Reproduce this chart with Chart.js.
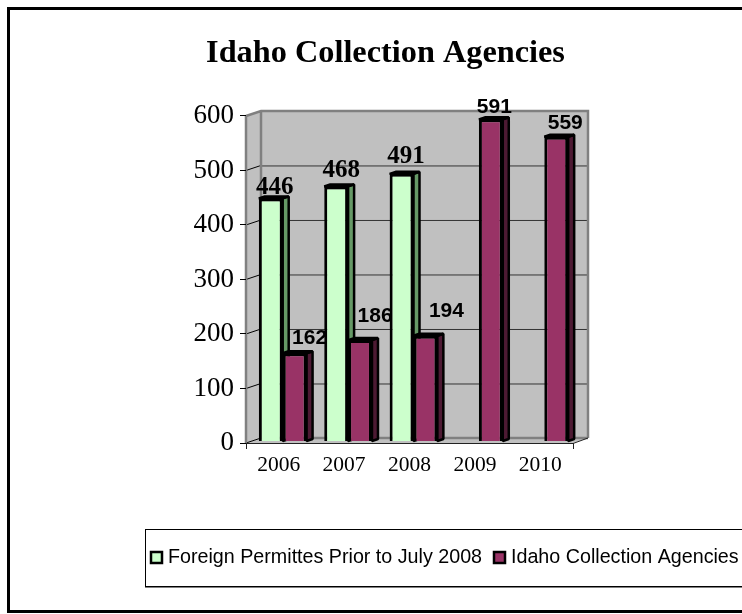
<!DOCTYPE html>
<html>
<head>
<meta charset="utf-8">
<style>
  html, body { margin: 0; padding: 0; background: #fff; overflow: hidden; }
  canvas { display: block; }
</style>
<script src="https://cdn.jsdelivr.net/npm/chart.js@4"></script>
</head>
<body>
<canvas id="chart" width="742" height="614"></canvas>
<script>
const years = ['2006', '2007', '2008', '2009', '2010'];
const foreignPermittes = [446, 468, 491, null, null];
const idahoAgencies = [162, 186, 194, 591, 559];
const yTicks = [0, 100, 200, 300, 400, 500, 600];

// how far the back wall and the bars sit behind the front plane
const wallDepth = { x: 15, y: -5 };
const barShift = { x: 4, y: -1.5 };
const barDepth = { x: 6, y: -2 };

// value labels are not centred on their bars, offsets per dataset and bar
const labelOffsets = [
  [[8, -12], [9, -17], [8.5, -19], [0, 0], [0, 0]],
  [[19, -16], [19, -25.5], [25, -26], [7.5, -14], [13, -15]]
];
const labelFonts = ['bold 25px "Liberation Serif"', 'bold 21px "Liberation Sans"'];

const C_WALL = '#c0c0c0';
const C_EDGE = '#808080';

function poly(ctx, pts, fill, stroke, lw) {
  ctx.beginPath();
  pts.forEach((p, i) => i ? ctx.lineTo(p[0], p[1]) : ctx.moveTo(p[0], p[1]));
  ctx.closePath();
  if (fill) { ctx.fillStyle = fill; ctx.fill(); }
  if (stroke) { ctx.lineJoin = 'bevel'; ctx.strokeStyle = stroke; ctx.lineWidth = lw || 1; ctx.stroke(); }
}

function drawValueLabels(chart, di) {
  const { ctx } = chart;
  const ds = chart.data.datasets[di];
  ctx.save();
  ctx.font = labelFonts[di];
  ctx.fillStyle = '#000';
  ctx.textAlign = 'center';
  ctx.textBaseline = 'middle';
  chart.getDatasetMeta(di).data.forEach((bar, i) => {
    if (ds.data[i] == null) return;
    const off = labelOffsets[di][i];
    ctx.fillText(String(ds.data[i]), bar.x + off[0], bar.y + off[1]);
  });
  ctx.restore();
}

// ==========================================
// box walls, floor and gridlines
// ==========================================
const wallsPlugin = {
  id: 'walls',
  beforeDraw(chart) {
    const { ctx, chartArea: a, scales: { y } } = chart;
    const dx = wallDepth.x, dy = wallDepth.y;
    ctx.save();
    ctx.fillStyle = '#fff';
    ctx.fillRect(0, 0, chart.width, chart.height);

    // side wall, floor, back wall
    poly(ctx, [[a.left, a.top], [a.left + dx, a.top + dy], [a.left + dx, a.bottom + dy], [a.left, a.bottom]], C_WALL);
    poly(ctx, [[a.left, a.bottom], [a.left + dx, a.bottom + dy], [a.right + dx, a.bottom + dy], [a.right, a.bottom]], C_WALL);
    ctx.fillStyle = C_WALL;
    ctx.fillRect(a.left + dx, a.top + dy, a.right - a.left, a.bottom - a.top);

    // gridlines run along the side wall then across the back
    yTicks.forEach(v => {
      const py = y.getPixelForValue(v);
      ctx.beginPath();
      ctx.moveTo(a.left, py);
      ctx.lineTo(a.left + dx, py + dy);
      ctx.strokeStyle = '#000';
      ctx.lineWidth = 1;
      ctx.stroke();
      if (v > 0 && v < 600) {
        ctx.beginPath();
        ctx.moveTo(a.left + dx, py + dy + 0.5);
        ctx.lineTo(a.right + dx, py + dy + 0.5);
        ctx.strokeStyle = '#333';
        ctx.stroke();
      }
    });

    // box edges
    ctx.strokeStyle = C_EDGE;
    ctx.lineWidth = 2.5;
    ctx.beginPath();
    ctx.moveTo(a.left, a.top);
    ctx.lineTo(a.left + dx, a.top + dy);
    ctx.lineTo(a.right + dx, a.top + dy);
    ctx.lineTo(a.right + dx, a.bottom + dy);
    ctx.moveTo(a.left + dx, a.top + dy);
    ctx.lineTo(a.left + dx, a.bottom + dy);
    ctx.lineTo(a.right + dx, a.bottom + dy);
    ctx.moveTo(a.left, a.top);
    ctx.lineTo(a.left, a.bottom);
    ctx.stroke();

    // front floor edge, the diagonal on the right and the two end ticks
    ctx.strokeStyle = '#222';
    ctx.lineWidth = 1;
    ctx.beginPath();
    ctx.moveTo(a.left - 6, a.bottom + 0.5);
    ctx.lineTo(a.right, a.bottom + 0.5);
    ctx.lineTo(a.right + dx, a.bottom + dy);
    ctx.moveTo(a.left + 0.5, a.bottom);
    ctx.lineTo(a.left + 0.5, a.bottom + 6);
    ctx.moveTo(a.right + 0.5, a.bottom);
    ctx.lineTo(a.right + 0.5, a.bottom + 6);
    ctx.stroke();
    ctx.restore();
  },

  beforeDatasetsDraw(chart) {
    const { ctx } = chart;
    drawValueLabels(chart, 1);
    // side and top faces go under the library's bars
    ctx.save();
    ctx.translate(barShift.x, barShift.y);
    chart.data.datasets.forEach((ds, di) => {
      chart.getDatasetMeta(di).data.forEach((bar, i) => {
        if (ds.data[i] == null) return;
        const l = bar.x - bar.width / 2, r = bar.x + bar.width / 2;
        const bx = barDepth.x, by = barDepth.y;
        poly(ctx, [[r, bar.y], [r + bx, bar.y + by], [r + bx, bar.base + by], [r, bar.base]], ds.sideColor, '#000', 2.5);
        poly(ctx, [[l, bar.y], [l + bx, bar.y + by], [r + bx, bar.y + by], [r, bar.y]], ds.sideColor, '#000', 2.5);
      });
    });
  },

  afterDatasetsDraw(chart) {
    chart.ctx.restore();
    drawValueLabels(chart, 0);
  },

  afterDraw(chart) {
    const { ctx } = chart;
    // legend box, swatches and names
    ctx.save();
    ctx.fillStyle = '#808080';
    ctx.fillRect(145, 586, 620, 2);
    ctx.strokeStyle = '#000';
    ctx.lineWidth = 1;
    ctx.strokeRect(145.5, 529.5, 620, 57);
    ctx.font = '19.7px "Liberation Sans"';
    ctx.textBaseline = 'middle';
    [[151, 168], [494, 511]].forEach((pos, i) => {
      const ds = chart.data.datasets[i];
      ctx.lineWidth = 2.5;
      ctx.fillStyle = ds.backgroundColor;
      ctx.fillRect(pos[0], 552, 11, 11);
      ctx.strokeRect(pos[0], 552, 11, 11);
      ctx.fillStyle = '#000';
      ctx.fillText(ds.label, pos[1], 558);
    });

    // outer frame
    ctx.lineWidth = 3;
    ctx.strokeRect(8.5, 8.5, chart.width + 10, 603);
    ctx.restore();
  }
};

// ==========================================
// title stays put over the plot, not over the axis box
// ==========================================
const titlePlugin = {
  id: 'titlePlace',
  afterLayout(chart) {
    const t = chart.titleBlock;
    const tw = t.right - t.left;
    t.left = 385.5 - tw / 2;
    t.right = 385.5 + tw / 2;
    t.top = 34;
    t.bottom = t.top + t.height;
  }
};

new Chart(document.getElementById('chart'), {
  type: 'bar',
  data: {
    labels: years,
    datasets: [
      { label: 'Foreign Permittes Prior to July 2008', data: foreignPermittes,
        backgroundColor: '#ccffcc', sideColor: '#669966' },
      { label: 'Idaho Collection Agencies', data: idahoAgencies,
        backgroundColor: '#993366', sideColor: '#4d1a33' }
    ]
  },
  options: {
    responsive: false,
    animation: false,
    events: [],
    layout: { padding: { left: 0, right: 169, top: 77.2, bottom: 0 } },
    datasets: { bar: { borderColor: '#000', borderWidth: 3, categoryPercentage: 0.73, barPercentage: 1 } },
    scales: {
      x: {
        grid: { display: false },
        border: { display: false },
        ticks: { color: '#000', font: { family: '"Liberation Serif"', size: 21.5 }, padding: 1, maxRotation: 0 },
        afterFit(s) { s.height = 171; }
      },
      y: {
        min: 0, max: 600,
        afterBuildTicks(s) { s.ticks = yTicks.map(v => ({ value: v })); },
        grid: { drawOnChartArea: false, drawTicks: true, tickLength: 6, color: '#000' },
        border: { display: false },
        ticks: { color: '#000', font: { family: '"Liberation Serif"', size: 27 }, padding: 6 },
        afterFit(s) { s.width = 246; }
      }
    },
    plugins: {
      tooltip: { enabled: false },
      legend: { display: false },
      title: {
        display: true,
        text: 'Idaho Collection Agencies',
        color: '#000',
        font: { family: '"Liberation Serif"', size: 32.3, weight: 'bold' },
        padding: 0
      }
    }
  },
  plugins: [titlePlugin, wallsPlugin]
});
</script>
</body>
</html>
